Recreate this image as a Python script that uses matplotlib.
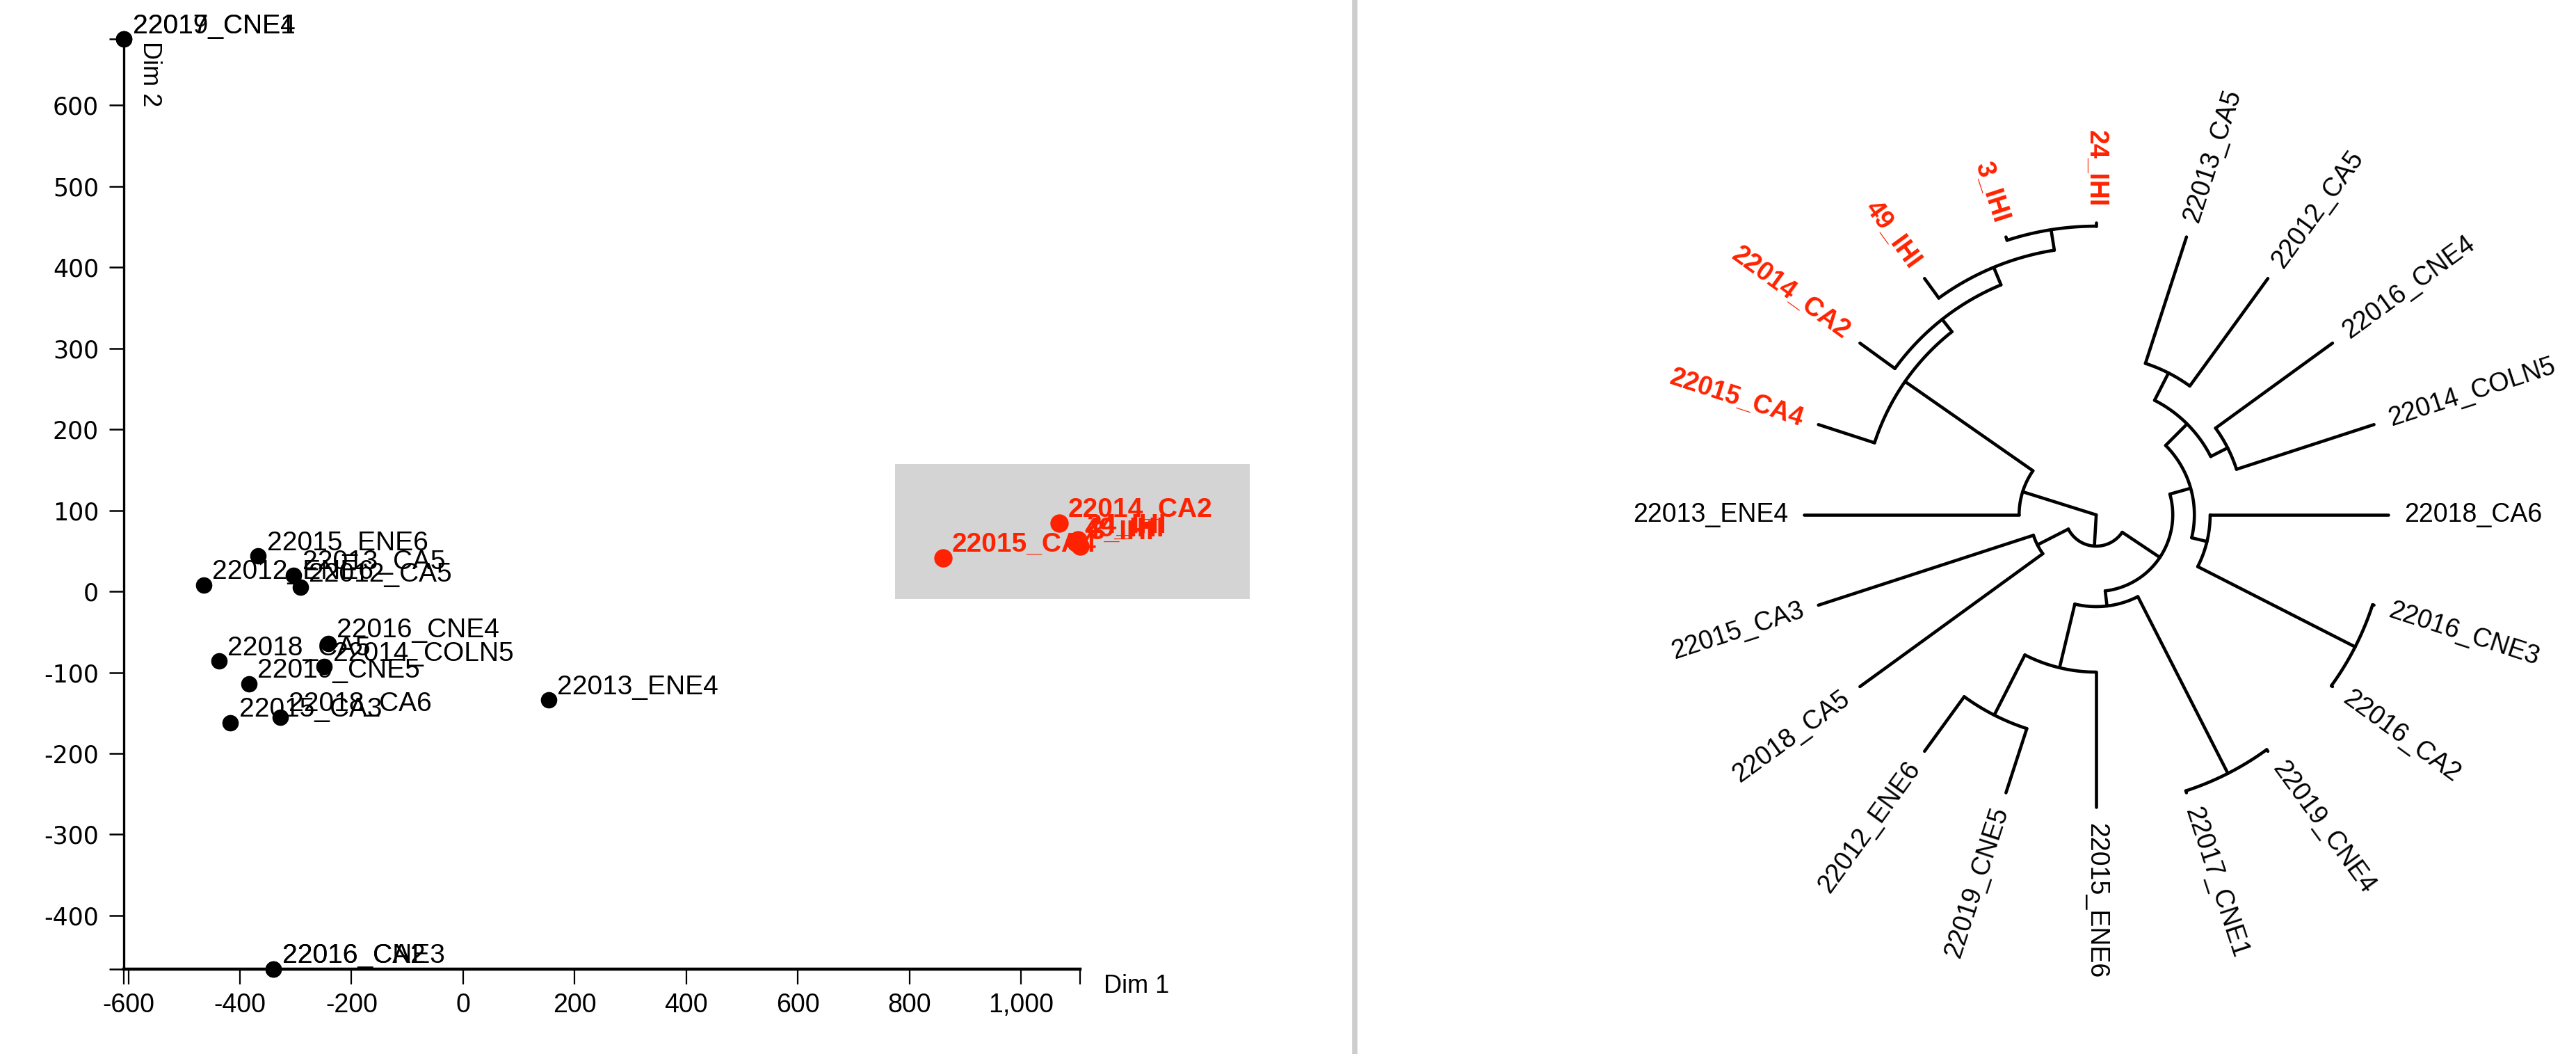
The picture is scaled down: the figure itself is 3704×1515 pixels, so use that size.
"""
MDS scatter of samples (left) and circular dendrogram of the same samples (right)
"""

import numpy as np
import matplotlib
matplotlib.use('Agg')
import matplotlib.pyplot as plt
from matplotlib.lines import Line2D

plt.rcParams['font.family'] = ['Liberation Sans', 'DejaVu Sans']

# --- MDS coordinates ---
black_names = ['22019_CNE4', '22017_CNE1', '22016_CNE3', '22016_CA2', '22015_ENE6',
               '22012_ENE6', '22013_CA5', '22012_CA5', '22018_CA5', '22016_CNE4',
               '22014_COLN5', '22019_CNE5', '22015_CA3', '22018_CA6', '22013_ENE4']
black_dim1 = [-608, -608, -340, -340, -367, -465, -304, -292, -438, -242, -249, -384, -417, -328, 153]
black_dim2 = [682, 682, -466, -466, 44, 8, 20, 5, -86, -64, -93, -114, -162, -155, -134]

red_names = ['22015_CA4', '22014_CA2', '49_IHI', '24_IHI', '3_IHI']
red_dim1 = [860, 1068, 1098, 1102, 1106]
red_dim2 = [41, 84, 60, 64, 56]

xticks = [-600, -400, -200, 0, 200, 400, 600, 800, 1000]
yticks = [-400, -300, -200, -100, 0, 100, 200, 300, 400, 500, 600]

# shaded box around the red group
box_dim1 = [774, 1410]
box_dim2 = [-9, 157]

# --- dendrogram (leaf order counter-clockwise from the top) ---
leaf_order = ['24_IHI', '3_IHI', '49_IHI', '22014_CA2', '22015_CA4', '22013_ENE4',
              '22015_CA3', '22018_CA5', '22012_ENE6', '22019_CNE5', '22015_ENE6',
              '22017_CNE1', '22019_CNE4', '22016_CA2', '22016_CNE3', '22018_CA6',
              '22014_COLN5', '22016_CNE4', '22012_CA5', '22013_CA5']
red_leaves = ['24_IHI', '3_IHI', '49_IHI', '22014_CA2', '22015_CA4']

# merges, bottom up: node name, two children, merge height (root = 100)
node_name  = ['n1', 'n2', 'n3', 'red', 'a',
              'g', 'w', 'z', 'v', 'y', 's', 'r', 'u', 'p', 't', 'q', 'x', 'b', 'root']
node_left  = ['24_IHI', 'n1', 'n2', 'n3', 'red',
              '22015_CA3', '22012_ENE6', 'w', '22017_CNE1', 'z', '22016_CA2', 's',
              '22014_COLN5', '22012_CA5', 'u', 'r', 'y', 'g', 'a']
node_right = ['3_IHI', '49_IHI', '22014_CA2', '22015_CA4', '22013_ENE4',
              '22018_CA5', '22019_CNE5', '22015_ENE6', '22019_CNE4', 'v', '22016_CNE3', '22018_CA6',
              '22016_CNE4', '22013_CA5', 'p', 't', 'q', 'x', 'b']
node_height = [1.2, 8.3, 14.8, 20.2, 73.6,
               77.4, 23.1, 46.2, 0.7, 68.6, 0.5, 61.0, 49.5, 45.5, 56.0, 66.4, 73.8, 89.3, 100.0]

red = '#ff2200'

fig = plt.figure(figsize=(37.05, 15.15), dpi=100)

# ---------------- left: scatter ----------------
ax = fig.add_axes([0, 0, 1940 / 3705, 1])
ax.set_xlim(-830, 1588)
ax.set_ylim(-571, 730)

all_x = black_dim1 + red_dim1
all_y = black_dim2 + red_dim2
x_lo, x_hi = min(all_x), max(all_x)
y_lo, y_hi = min(all_y), max(all_y)

ax.fill_between(box_dim1, box_dim2[0], box_dim2[1], color='#d4d4d4', lw=0, zorder=1)

ax.scatter(black_dim1, black_dim2, s=17**2, color='black', zorder=3, clip_on=False, lw=0)
ax.scatter(red_dim1, red_dim2, s=19**2, color=red, zorder=3, clip_on=False, lw=0)
for n, x, y in zip(black_names, black_dim1, black_dim2):
    ax.annotate(n, (x, y), xytext=(9, 6), textcoords='offset points',
                ha='left', va='baseline', fontsize=28, zorder=4)
for n, x, y in zip(red_names, red_dim1, red_dim2):
    ax.annotate(n, (x, y), xytext=(9, 7), textcoords='offset points',
                ha='left', va='baseline', fontsize=28, fontweight='bold', color=red, zorder=4)

for s in ['top', 'right']:
    ax.spines[s].set_visible(False)
ax.spines['left'].set_position(('data', x_lo))
ax.spines['left'].set_bounds(y_lo, y_hi)
ax.spines['left'].set_linewidth(2.4)
ax.spines['bottom'].set_position(('data', y_lo))
ax.spines['bottom'].set_bounds(x_lo, x_hi)
ax.spines['bottom'].set_linewidth(3.2)

ax.set_xticks([x_lo] + xticks + [x_hi], labels=[''] + [f'{v:,}' for v in xticks] + [''])
ax.set_yticks([y_lo] + yticks + [y_hi], labels=[''] + [f'{v:,}' for v in yticks] + [''])
ax.tick_params(axis='x', direction='out', length=16, width=1.6, pad=9, labelsize=27)
ax.tick_params(axis='y', direction='out', length=15, width=1.8, pad=11, labelsize=25)
for lab in ax.get_yticklabels():
    lab.set_fontfamily('DejaVu Sans')

ax.annotate('Dim 1', (x_hi, y_lo), xytext=(24, -18), textcoords='offset points',
            ha='left', va='center', fontsize=26)
ax.annotate('Dim 2', (x_lo, y_hi), xytext=(27, -2), textcoords='offset points',
            ha='center', va='top', rotation=-90, fontsize=26)

# separator
fig.add_artist(Line2D([1948 / 3705] * 2, [0, 1], transform=fig.transFigure,
                      color='#cdcdcd', lw=5.5))

# ---------------- right: circular dendrogram ----------------
ax2 = fig.add_axes([1960 / 3705, 0, 1745 / 3705, 1])
ax2.set_xlim(-251, 164.5)
ax2.set_ylim(-184.5, 176.2)
ax2.axis('off')

angle = {}
radius = {}
for i, leaf in enumerate(leaf_order):
    angle[leaf] = 90 + 18 * i
    radius[leaf] = 100.0

lw = 3.3
for name, l, r, h in zip(node_name, node_left, node_right, node_height):
    angle[name] = (angle[l] + angle[r]) / 2
    radius[name] = 100 - h
    rn = radius[name]
    a = np.radians(np.linspace(min(angle[l], angle[r]), max(angle[l], angle[r]), 80))
    ax2.plot(rn * np.cos(a), rn * np.sin(a), color='black', lw=lw, solid_capstyle='round')
    for c in (l, r):
        t = np.radians(angle[c])
        ax2.plot([rn * np.cos(t), radius[c] * np.cos(t)], [rn * np.sin(t), radius[c] * np.sin(t)],
                 color='black', lw=lw, solid_capstyle='round')

for leaf in leaf_order:
    th = angle[leaf] % 360
    t = np.radians(th)
    if 90 <= th < 270:
        rot, ha = th - 180, 'right'
    else:
        rot, ha = th, 'left'
    is_red = leaf in red_leaves
    ax2.text(105.5 * np.cos(t), 105.5 * np.sin(t), leaf, rotation=rot, rotation_mode='anchor',
             ha=ha, va='center', fontsize=27,
             color=red if is_red else 'black',
             fontweight='bold' if is_red else 'normal')

plt.savefig('out.png', dpi=100)
